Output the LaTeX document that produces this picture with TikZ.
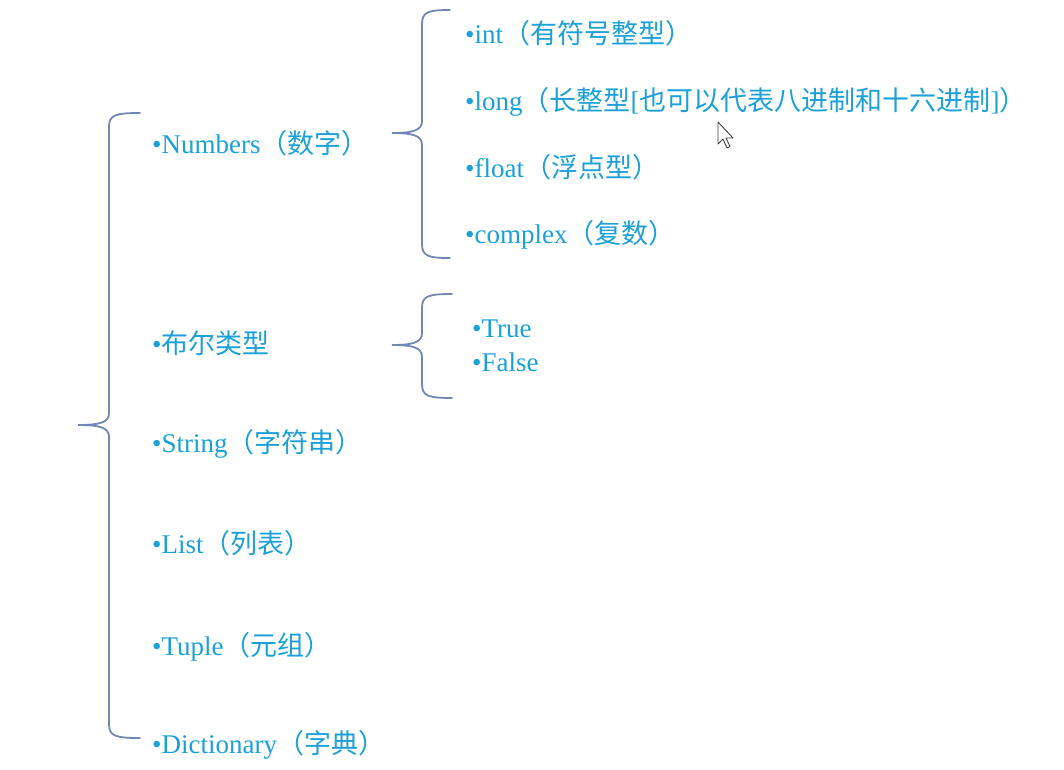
\documentclass[tikz,border=0pt]{standalone}
\usepackage{fontspec}
\setmainfont{Liberation Serif}
\newfontfamily\cjk{Noto Sans CJK SC}
\definecolor{txtblue}{RGB}{28,160,216}
\definecolor{bracecol}{RGB}{115,135,180}
\newcommand\zh[1]{{\cjk #1}}
\tikzset{
  item/.style={anchor=base west, inner sep=0pt, text=txtblue, font=\fontsize{27}{32}\selectfont},
  bracestyle/.style={draw=bracecol, line width=1.8pt, line cap=round}
}
\newcommand\mybrace[7]{% name xe xv xt yt ym yb
  \coordinate (#1-top) at (#2,#5);
  \coordinate (#1-tip) at (#4,#6);
  \coordinate (#1-bot) at (#2,#7);
  \draw[bracestyle] (#1-top) .. controls ({#3+6},#5) and (#3,{#5+2}) .. (#3,{#5+14})
    -- (#3,{#6-12}) .. controls (#3,{#6-3}) and ({#3-8},#6) .. (#1-tip)
    .. controls ({#3-8},#6) and (#3,{#6+3}) .. (#3,{#6+12})
    -- (#3,{#7-14}) .. controls (#3,{#7-2}) and ({#3+6},#7) .. (#1-bot);
}
\begin{document}
\begin{tikzpicture}[x=1pt,y=-1pt]
\useasboundingbox[fill=white] (0,0) rectangle (1064,769);
% main brace
\mybrace{main}{140}{109}{78}{113}{425}{738}
\mybrace{num}{450}{422}{392}{10}{133}{258}
\mybrace{bool}{452}{422}{392}{294}{345}{398}
% first level
\node[item] (numbers) at (152,153) {•Numbers\zh{（数字）}};
\node[item] (bool) at (152,353) {•\zh{布尔类型}};
\node[item] (string) at (152,452) {•String\zh{（字符串）}};
\node[item] (list) at (152,553) {•List\zh{（列表）}};
\node[item] (tuple) at (152,655) {•Tuple\zh{（元组）}};
\node[item] (dict) at (152,753) {•Dictionary\zh{（字典）}};
% numbers subitems
\node[item] (int) at (465,43) {•int\zh{（有符号整型）}};
\node[item] (long) at (465,110) {•long\zh{（长整型}[\zh{也可以代表八进制和十六进制}]\zh{）}};
\node[item] (float) at (465,177) {•float\zh{（浮点型）}};
\node[item] (complex) at (465,243) {•complex\zh{（复数）}};
% bool subitems
\node[item] (true) at (472,337) {•True};
\node[item] (false) at (472,371) {•False};
% mouse cursor
\draw[fill=white, draw=black!75, line width=0.9pt, line join=round]
  (718,122) -- (718,144) -- (723,139) -- (727,148) -- (730,146.5) -- (726,138) -- (733,138) -- cycle;
\end{tikzpicture}
\end{document}
